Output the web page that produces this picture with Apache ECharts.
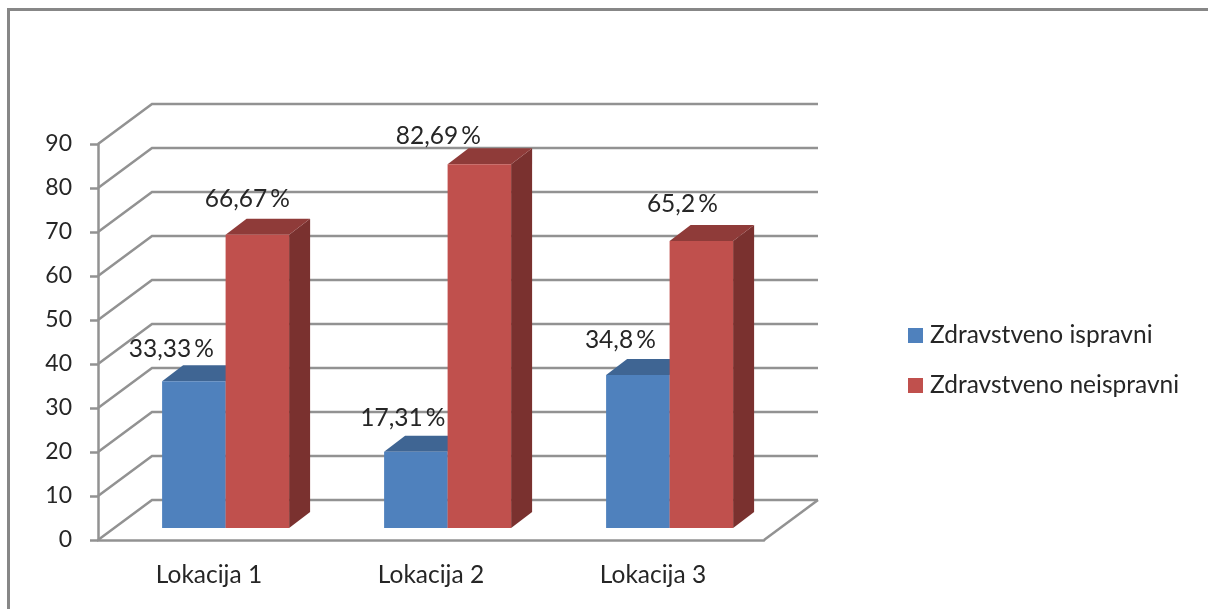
<!DOCTYPE html>
<html><head><meta charset="utf-8">
<style>html,body{margin:0;padding:0;background:#fff}#c{width:1208px;height:609px}</style>
<script src="https://cdn.jsdelivr.net/npm/echarts@6/dist/echarts.min.js"></script>
</head><body><div id="c"></div>
<script>
const categories = ['Lokacija 1', 'Lokacija 2', 'Lokacija 3'];
const seriesNames = ['Zdravstveno ispravni', 'Zdravstveno neispravni'];
const ispravni = [33.33, 17.31, 34.8];
const neispravni = [66.67, 82.69, 65.2];
const yTicks = [0, 10, 20, 30, 40, 50, 60, 70, 80, 90];

// Layout of the fake 3D box (pixels)
const WALL_DX = 54, WALL_DY = -40, FLOOR_DX = 16.6, FLOOR_DY = -12, BAR_DX = 21, BAR_DY = -16, BAR_W = 63.5;
const LINE = '#929292', TEXT = '#262626', FONT = 'Lato';
const labelShift = [
  [[-22.5, -32], [-13, -34], [-17.5, -35]],
  [[-10, -36], [-41, -28.5], [-19, -37]]
];
const palette = [
  {front: '#4f81bd', top: '#3f6593', side: '#3a5e8c'},
  {front: '#c0504d', top: '#8f3b39', side: '#7a312f'}
];

function wallItem(params, api) {
  const v = api.value(0);
  const p = api.coord([0, v]);
  const left = params.coordSys.x, right = left + params.coordSys.width;
  const children = [{
    type: 'polyline',
    shape: {points: [[left, p[1]], [left + WALL_DX, p[1] + WALL_DY], [right + WALL_DX, p[1] + WALL_DY]]},
    style: {stroke: LINE, lineWidth: 2.5, fill: null}
  }];
  if (v === 0) children.push({
    type: 'line',
    shape: {x1: right, y1: p[1], x2: right + WALL_DX, y2: p[1] + WALL_DY},
    style: {stroke: LINE, lineWidth: 2.5}
  });
  return {type: 'group', children};
}

function barItem(sIdx) {
  return function (params, api) {
    const c = api.value(0), v = api.value(1);
    const topPt = api.coord([c, v]), base = api.coord([c, 0]);
    const x0 = topPt[0] + FLOOR_DX + (sIdx === 0 ? -BAR_W : 0), x1 = x0 + BAR_W;
    const yT = topPt[1] + FLOOR_DY, yB = base[1] + FLOOR_DY;
    const pal = palette[sIdx], sh = labelShift[sIdx][params.dataIndex];
    const poly = (pts, fill) => ({type: 'polygon', shape: {points: pts}, style: {fill}});
    return {type: 'group', children: [
      poly([[x1, yT], [x1 + BAR_DX, yT + BAR_DY], [x1 + BAR_DX, yB + BAR_DY], [x1, yB]], pal.side),
      poly([[x0, yT], [x0 + BAR_DX, yT + BAR_DY], [x1 + BAR_DX, yT + BAR_DY], [x1, yT]], pal.top),
      poly([[x0, yT], [x1, yT], [x1, yB], [x0, yB]], pal.front),
      {type: 'text', z2: 50, style: {
        x: (x0 + x1) / 2 + sh[0], y: yT + sh[1],
        text: String(v).replace('.', ',') + '\u2009%',
        fill: TEXT, font: '24.5px ' + FONT, align: 'center', verticalAlign: 'middle'
      }}
    ]};
  };
}

const chart = echarts.init(document.getElementById('c'), null, {renderer: 'canvas'});
chart.setOption({
  animation: false,
  backgroundColor: '#ffffff',
  grid: {left: 98, top: 144, width: 666, height: 396},
  legend: {
    orient: 'vertical', left: 903, top: 318, itemWidth: 15, itemHeight: 15, itemGap: 25,
    icon: 'rect', data: seriesNames, selectedMode: false,
    textStyle: {color: TEXT, fontFamily: FONT, fontSize: 24.5, lineHeight: 24, padding: [0, 0, 0, 2]}
  },
  xAxis: {
    type: 'category', data: categories,
    axisLine: {show: true, lineStyle: {color: LINE, width: 2.5}},
    axisTick: {show: false},
    axisLabel: {color: TEXT, fontFamily: FONT, fontSize: 24.5, margin: 23},
    splitLine: {show: false}
  },
  yAxis: {
    type: 'value', min: 0, max: 90, interval: 10,
    axisLine: {show: true, lineStyle: {color: LINE, width: 2.5}},
    axisTick: {show: true, length: 8, lineStyle: {color: LINE, width: 2.5}},
    axisLabel: {color: TEXT, fontFamily: FONT, fontSize: 23, margin: 26, padding: [3, 0, 0, 0]},
    splitLine: {show: false}
  },
  graphic: [{
    type: 'polyline', silent: true,
    shape: {points: [[8.5, 609], [8.5, 9.5], [1208, 9.5]]},
    style: {stroke: '#878787', lineWidth: 3, fill: null}
  }],
  series: [
    {type: 'custom', silent: true, clip: false, z: 1, renderItem: wallItem, data: yTicks.map(t => [t]), encode: {y: 0}},
    {type: 'custom', name: seriesNames[0], clip: false, z: 2, itemStyle: {color: palette[0].front},
     renderItem: barItem(0), data: ispravni.map((v, i) => [i, v]), encode: {x: 0, y: 1}},
    {type: 'custom', name: seriesNames[1], clip: false, z: 3, itemStyle: {color: palette[1].front},
     renderItem: barItem(1), data: neispravni.map((v, i) => [i, v]), encode: {x: 0, y: 1}}
  ]
});
</script></body></html>
